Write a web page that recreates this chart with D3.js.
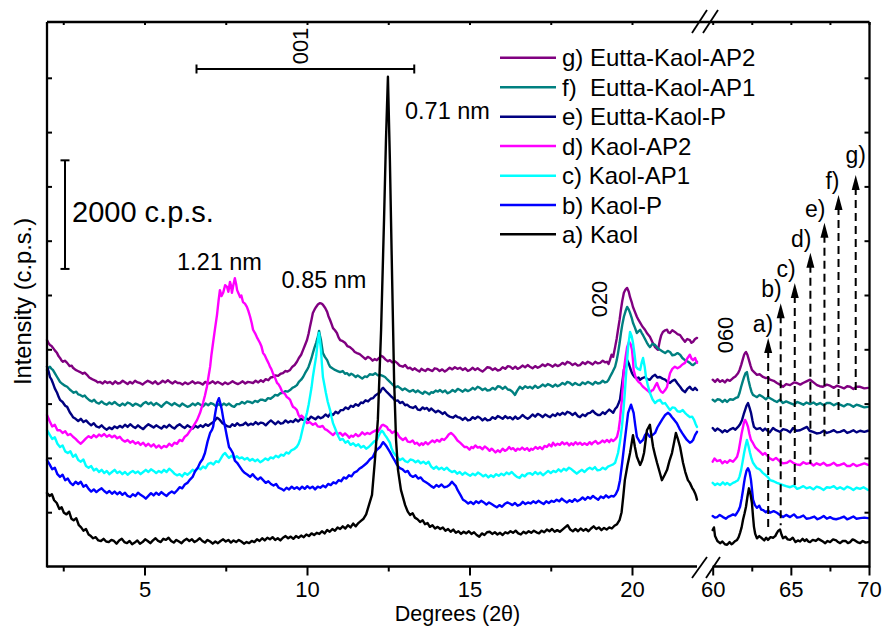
<!DOCTYPE html>
<html>
<head>
<meta charset="utf-8">
<script src="https://cdn.jsdelivr.net/npm/d3@7"></script>
<style>
  html, body { margin: 0; padding: 0; background: #fff; }
  svg text { font-family: Arial, "Liberation Sans", sans-serif; fill: #000; }
</style>
</head>
<body>
<svg id="chart" width="884" height="626"></svg>
<script>
// ---------------- data ----------------
const sampleLabels = ["a) Kaol", "b) Kaol-P", "c) Kaol-AP1", "d) Kaol-AP2",
                      "e) Eutta-Kaol-P", "f)  Eutta-Kaol-AP1", "g) Eutta-Kaol-AP2"];
const sampleColors = ["#000000", "#0000ff", "#00ffff", "#ff00ff", "#000080", "#008080", "#800080"];

const lowTicks = [5, 10, 15, 20];
const lowMinorTicks = [2.5, 7.5, 12.5, 17.5];
const highTicks = [60, 65, 70];
const highMinorTicks = [62.5, 67.5];
const intensityTicks = [1000, 2000, 3000, 4000, 5000, 6000, 7000, 8000, 9000];

// [2theta (deg), intensity (c.p.s., offset-stacked)]
const kaolLow = [[2.00,1355],[2.08,1300],[2.15,1330],[2.22,1220],[2.30,1170],[2.38,1060],[2.45,1090],[2.52,990],[2.60,960],[2.68,1010],[2.75,880],[2.82,850],[2.90,890],[2.98,760],[3.05,720],[3.12,660],[3.20,690],[3.28,590],[3.35,560],[3.42,520],[3.50,540],[3.58,480],[3.66,470],[3.74,510],[3.82,460],[3.90,450],[3.98,490],[4.06,470],[4.14,420],[4.22,480],[4.30,510],[4.38,450],[4.46,430],[4.54,470],[4.62,410],[4.70,440],[4.78,480],[4.86,420],[4.94,450],[5.02,500],[5.10,470],[5.18,430],[5.26,480],[5.34,520],[5.42,470],[5.50,450],[5.58,510],[5.66,490],[5.74,530],[5.82,470],[5.90,440],[5.98,490],[6.06,460],[6.14,430],[6.22,480],[6.30,510],[6.38,470],[6.46,500],[6.54,450],[6.62,480],[6.70,520],[6.78,470],[6.86,440],[6.94,490],[7.02,460],[7.10,420],[7.18,460],[7.26,430],[7.34,470],[7.42,500],[7.50,460],[7.58,490],[7.66,440],[7.74,480],[7.82,450],[7.90,490],[7.98,460],[8.06,420],[8.14,450],[8.22,430],[8.30,470],[8.38,450],[8.46,500],[8.54,470],[8.62,520],[8.70,480],[8.78,530],[8.86,500],[8.94,540],[9.02,490],[9.10,520],[9.18,480],[9.26,530],[9.34,560],[9.42,520],[9.50,550],[9.58,510],[9.66,560],[9.74,530],[9.82,570],[9.90,540],[9.98,590],[10.06,560],[10.14,610],[10.22,580],[10.30,620],[10.38,600],[10.46,650],[10.54,610],[10.62,670],[10.70,640],[10.78,690],[10.86,660],[10.94,720],[11.02,690],[11.10,740],[11.18,700],[11.26,760],[11.34,720],[11.42,790],[11.50,740],[11.58,800],[11.66,840],[11.74,880],[11.82,960],[12.00,1320],[12.09,1960],[12.18,2700],[12.28,4360],[12.37,6380],[12.43,7860],[12.49,9020],[12.55,7490],[12.62,5280],[12.68,3440],[12.74,2330],[12.80,1780],[12.89,1410],[13.02,1130],[13.10,1010],[13.17,950],[13.25,980],[13.32,900],[13.40,870],[13.48,820],[13.56,850],[13.63,780],[13.71,800],[13.78,730],[13.86,760],[13.94,700],[14.02,730],[14.10,690],[14.18,720],[14.26,660],[14.34,690],[14.42,640],[14.50,680],[14.58,620],[14.66,650],[14.74,600],[14.82,640],[14.90,610],[14.98,650],[15.06,600],[15.14,630],[15.22,580],[15.30,550],[15.38,610],[15.46,580],[15.54,630],[15.62,640],[15.70,600],[15.78,630],[15.86,590],[15.94,620],[16.02,580],[16.10,630],[16.18,610],[16.26,650],[16.34,620],[16.42,660],[16.50,610],[16.58,590],[16.66,640],[16.74,610],[16.82,650],[16.90,620],[16.98,660],[17.06,630],[17.14,610],[17.22,660],[17.30,630],[17.38,680],[17.46,650],[17.54,690],[17.62,640],[17.70,670],[17.78,640],[17.86,680],[17.94,720],[18.02,760],[18.10,680],[18.18,650],[18.26,690],[18.34,650],[18.42,700],[18.50,660],[18.58,690],[18.66,650],[18.74,700],[18.82,740],[18.90,690],[18.98,720],[19.06,670],[19.14,710],[19.22,680],[19.30,720],[19.38,700],[19.46,750],[19.54,780],[19.62,860],[19.68,1000],[19.73,1280],[19.78,1590],[19.86,1860],[19.94,2090],[20.03,2420],[20.09,2200],[20.15,2020],[20.25,1870],[20.31,1950],[20.37,2090],[20.46,2510],[20.55,2610],[20.60,2400],[20.65,2200],[20.71,2050],[20.77,1910],[20.85,1740],[20.92,1590],[21.00,1680],[21.08,1780],[21.15,1940],[21.23,2090],[21.30,2300],[21.35,2460],[21.42,2330],[21.48,2200],[21.57,1910],[21.64,1740],[21.72,1590],[21.78,1540],[21.85,1450],[21.90,1400],[21.94,1350],[21.97,1300],[22.00,1230]];
const kaolHigh = [[60.00,670],[60.08,720],[60.15,560],[60.30,470],[60.47,430],[60.62,460],[60.78,410],[60.92,400],[61.08,450],[61.20,410],[61.30,430],[61.45,470],[61.56,490],[61.66,540],[61.75,620],[61.85,720],[61.94,860],[62.04,980],[62.13,1100],[62.22,1280],[62.32,1440],[62.42,1330],[62.51,1170],[62.58,920],[62.64,730],[62.72,600],[62.83,520],[62.98,560],[63.15,520],[63.30,480],[63.42,530],[63.54,490],[63.70,540],[63.86,530],[64.00,560],[64.11,620],[64.20,660],[64.31,680],[64.40,590],[64.50,520],[64.65,550],[64.80,500],[64.95,490],[65.12,530],[65.30,450],[65.45,480],[65.59,460],[65.75,510],[65.88,470],[66.00,500],[66.12,460],[66.23,450],[66.40,490],[66.60,470],[66.75,510],[66.87,490],[67.05,460],[67.20,430],[67.35,470],[67.51,450],[67.70,500],[67.90,480],[68.02,450],[68.15,430],[68.32,470],[68.50,470],[68.65,430],[68.79,450],[68.95,500],[69.10,480],[69.25,450],[69.43,430],[69.60,470],[69.78,440],[69.94,450]];

const kaolPLow = [[2.00,1960],[2.08,1880],[2.16,1790],[2.24,1820],[2.32,1700],[2.40,1650],[2.48,1690],[2.56,1590],[2.64,1620],[2.72,1540],[2.80,1500],[2.88,1560],[2.96,1520],[3.04,1560],[3.12,1470],[3.20,1500],[3.28,1430],[3.36,1380],[3.44,1420],[3.52,1370],[3.60,1410],[3.68,1440],[3.76,1390],[3.84,1350],[3.92,1390],[4.00,1340],[4.08,1380],[4.16,1330],[4.24,1370],[4.32,1320],[4.40,1360],[4.48,1300],[4.56,1280],[4.64,1330],[4.72,1300],[4.80,1360],[4.88,1320],[4.96,1290],[5.04,1250],[5.12,1300],[5.20,1350],[5.28,1310],[5.36,1360],[5.44,1320],[5.52,1370],[5.60,1330],[5.68,1300],[5.76,1350],[5.84,1380],[5.92,1350],[6.00,1400],[6.08,1460],[6.16,1440],[6.24,1510],[6.32,1540],[6.40,1600],[6.48,1650],[6.56,1760],[6.64,1820],[6.71,1910],[6.79,1980],[6.86,2090],[6.94,2300],[7.02,2460],[7.08,2520],[7.11,2570],[7.17,2800],[7.23,3010],[7.29,3100],[7.34,2990],[7.38,2880],[7.43,2700],[7.48,2570],[7.54,2380],[7.60,2200],[7.66,2150],[7.72,2090],[7.78,1950],[7.85,1910],[7.94,1830],[8.02,1760],[8.09,1720],[8.17,1690],[8.25,1650],[8.33,1700],[8.41,1640],[8.49,1600],[8.57,1640],[8.65,1590],[8.73,1540],[8.81,1570],[8.89,1520],[8.97,1490],[9.05,1520],[9.13,1450],[9.21,1430],[9.29,1400],[9.37,1450],[9.45,1420],[9.53,1470],[9.61,1430],[9.69,1460],[9.77,1420],[9.85,1470],[9.93,1430],[10.01,1480],[10.09,1440],[10.17,1470],[10.25,1420],[10.33,1470],[10.41,1450],[10.49,1490],[10.57,1460],[10.65,1520],[10.73,1500],[10.81,1550],[10.89,1530],[10.97,1590],[11.05,1570],[11.13,1640],[11.21,1620],[11.29,1680],[11.37,1660],[11.45,1730],[11.53,1750],[11.61,1800],[11.69,1830],[11.77,1870],[11.85,1910],[11.93,1970],[12.03,2020],[12.09,2100],[12.15,2150],[12.25,2200],[12.34,2290],[12.40,2250],[12.46,2200],[12.55,2110],[12.65,2000],[12.71,1940],[12.77,1870],[12.86,1810],[12.94,1790],[13.02,1740],[13.10,1760],[13.18,1680],[13.26,1650],[13.34,1680],[13.42,1620],[13.50,1640],[13.58,1580],[13.66,1550],[13.74,1520],[13.82,1480],[13.90,1450],[13.98,1500],[14.06,1470],[14.14,1510],[14.22,1460],[14.30,1470],[14.38,1500],[14.46,1560],[14.52,1520],[14.58,1480],[14.64,1400],[14.72,1320],[14.80,1230],[14.88,1200],[14.96,1160],[15.04,1190],[15.12,1150],[15.20,1200],[15.28,1170],[15.36,1210],[15.44,1180],[15.52,1140],[15.60,1180],[15.68,1150],[15.76,1120],[15.84,1090],[15.92,1130],[16.00,1100],[16.08,1150],[16.16,1180],[16.24,1160],[16.32,1130],[16.40,1170],[16.48,1120],[16.56,1140],[16.64,1190],[16.72,1150],[16.80,1180],[16.88,1160],[16.96,1200],[17.04,1170],[17.12,1210],[17.20,1180],[17.28,1150],[17.36,1200],[17.44,1170],[17.52,1210],[17.60,1190],[17.68,1230],[17.76,1200],[17.84,1250],[17.92,1210],[18.00,1180],[18.08,1220],[18.16,1190],[18.24,1240],[18.32,1200],[18.40,1230],[18.48,1270],[18.56,1230],[18.64,1280],[18.72,1250],[18.80,1300],[18.88,1260],[18.96,1230],[19.04,1290],[19.12,1260],[19.20,1310],[19.28,1270],[19.36,1300],[19.44,1290],[19.50,1330],[19.57,1420],[19.63,1590],[19.70,1920],[19.78,2330],[19.88,2830],[19.97,2980],[20.05,2830],[20.10,2600],[20.15,2390],[20.25,2280],[20.34,2330],[20.40,2420],[20.46,2460],[20.55,2390],[20.63,2420],[20.71,2460],[20.78,2560],[20.86,2640],[20.94,2720],[21.02,2790],[21.11,2830],[21.17,2800],[21.23,2750],[21.30,2700],[21.38,2640],[21.46,2540],[21.54,2460],[21.62,2390],[21.69,2330],[21.78,2280],[21.84,2300],[21.88,2330],[21.94,2420],[22.00,2480]];
const kaolPHigh = [[60.00,930],[60.14,900],[60.28,910],[60.45,950],[60.66,910],[60.85,880],[61.00,920],[61.11,930],[61.30,960],[61.45,940],[61.56,990],[61.66,1040],[61.75,1100],[61.85,1250],[61.94,1410],[62.00,1530],[62.07,1650],[62.16,1760],[62.26,1810],[62.36,1740],[62.45,1590],[62.52,1400],[62.58,1230],[62.70,1130],[62.83,1080],[62.98,1120],[63.10,1050],[63.22,1040],[63.40,1000],[63.55,1030],[63.67,990],[63.90,1020],[64.11,990],[64.30,950],[64.50,910],[64.70,950],[64.95,910],[65.20,960],[65.40,900],[65.59,910],[65.80,940],[66.00,880],[66.23,890],[66.50,920],[66.70,870],[66.87,890],[67.10,930],[67.30,880],[67.51,910],[67.70,880],[67.90,870],[68.15,890],[68.40,920],[68.60,870],[68.79,890],[69.00,920],[69.20,880],[69.43,890],[69.70,900],[69.94,890]];

const kaolAP1Low = [[2.00,2510],[2.08,2430],[2.16,2350],[2.24,2380],[2.32,2260],[2.40,2200],[2.48,2230],[2.56,2120],[2.64,2090],[2.72,2120],[2.80,2020],[2.88,2060],[2.96,1960],[3.04,1930],[3.12,1970],[3.20,1850],[3.28,1820],[3.36,1850],[3.44,1770],[3.52,1800],[3.60,1740],[3.68,1780],[3.76,1720],[3.84,1760],[3.92,1700],[4.00,1740],[4.08,1780],[4.16,1720],[4.24,1750],[4.32,1700],[4.40,1740],[4.48,1690],[4.56,1730],[4.64,1760],[4.72,1720],[4.80,1750],[4.88,1700],[4.96,1740],[5.04,1780],[5.12,1740],[5.20,1790],[5.28,1760],[5.36,1720],[5.44,1760],[5.52,1730],[5.60,1780],[5.68,1740],[5.76,1800],[5.84,1760],[5.92,1710],[6.00,1680],[6.08,1700],[6.16,1660],[6.24,1720],[6.32,1690],[6.40,1730],[6.48,1780],[6.56,1750],[6.64,1820],[6.72,1790],[6.80,1840],[6.88,1810],[6.96,1890],[7.04,1910],[7.12,1880],[7.20,1940],[7.28,1920],[7.36,2000],[7.42,2060],[7.48,2090],[7.54,2040],[7.60,2000],[7.68,2040],[7.76,1990],[7.84,2030],[7.92,1990],[8.00,2010],[8.08,1970],[8.16,2000],[8.24,1950],[8.32,1980],[8.40,1940],[8.48,1970],[8.56,1920],[8.64,1950],[8.72,1990],[8.80,1960],[8.88,2010],[8.96,1990],[9.04,2040],[9.12,2010],[9.20,2060],[9.28,2040],[9.36,2100],[9.44,2080],[9.52,2140],[9.60,2160],[9.68,2200],[9.74,2260],[9.80,2360],[9.88,2570],[9.94,2700],[10.00,2830],[10.05,2980],[10.09,3120],[10.14,3300],[10.18,3490],[10.23,3680],[10.28,3860],[10.32,4080],[10.35,4230],[10.37,4300],[10.40,4150],[10.43,3990],[10.46,3720],[10.49,3490],[10.54,3330],[10.58,3200],[10.64,3030],[10.71,2880],[10.76,2740],[10.80,2640],[10.86,2550],[10.92,2460],[10.97,2390],[11.02,2330],[11.10,2350],[11.18,2280],[11.26,2310],[11.34,2240],[11.42,2270],[11.50,2220],[11.58,2250],[11.66,2190],[11.74,2220],[11.82,2170],[11.90,2200],[11.98,2250],[12.06,2300],[12.15,2330],[12.20,2400],[12.25,2460],[12.30,2500],[12.34,2480],[12.40,2420],[12.46,2370],[12.55,2280],[12.60,2180],[12.65,2110],[12.71,2060],[12.77,2020],[12.82,1980],[12.86,1960],[12.94,1990],[13.02,1940],[13.10,1920],[13.18,1970],[13.26,1960],[13.34,1920],[13.42,1950],[13.50,1900],[13.58,1930],[13.66,1890],[13.74,1930],[13.82,1840],[13.90,1800],[13.98,1840],[14.06,1790],[14.14,1820],[14.22,1780],[14.30,1820],[14.38,1770],[14.46,1740],[14.54,1760],[14.62,1710],[14.70,1740],[14.78,1690],[14.86,1730],[14.94,1700],[15.02,1670],[15.10,1710],[15.18,1680],[15.26,1730],[15.34,1700],[15.42,1660],[15.50,1690],[15.58,1640],[15.66,1680],[15.74,1650],[15.82,1700],[15.90,1670],[15.98,1710],[16.06,1680],[16.14,1730],[16.22,1700],[16.30,1740],[16.38,1690],[16.46,1650],[16.54,1630],[16.62,1690],[16.70,1660],[16.78,1710],[16.86,1720],[16.94,1690],[17.02,1740],[17.10,1700],[17.18,1730],[17.26,1680],[17.34,1720],[17.42,1760],[17.50,1720],[17.58,1760],[17.66,1740],[17.74,1790],[17.82,1750],[17.90,1800],[17.98,1770],[18.06,1820],[18.14,1790],[18.22,1750],[18.30,1710],[18.38,1750],[18.46,1780],[18.54,1740],[18.62,1790],[18.70,1820],[18.78,1790],[18.86,1830],[18.94,1770],[19.02,1780],[19.10,1820],[19.18,1790],[19.26,1840],[19.34,1860],[19.42,1880],[19.48,1910],[19.57,2090],[19.63,2300],[19.69,2570],[19.74,2900],[19.78,3200],[19.83,3650],[19.88,4040],[19.94,4320],[19.99,4240],[20.03,4120],[20.08,3900],[20.12,3680],[20.18,3640],[20.25,3620],[20.30,3760],[20.34,3840],[20.39,3680],[20.43,3490],[20.49,3330],[20.55,3200],[20.63,3080],[20.71,3010],[20.78,3050],[20.86,3070],[20.94,3000],[21.02,3010],[21.10,2940],[21.17,2880],[21.24,2930],[21.32,2920],[21.40,2860],[21.48,2850],[21.56,2880],[21.63,2830],[21.70,2790],[21.78,2750],[21.85,2760],[21.91,2700],[21.96,2620],[22.00,2570]];
const kaolAP1High = [[60.00,1540],[60.15,1500],[60.30,1530],[60.47,1500],[60.65,1550],[60.80,1510],[60.92,1540],[61.10,1500],[61.30,1540],[61.45,1560],[61.62,1590],[61.72,1660],[61.82,1780],[61.92,1940],[62.01,2090],[62.10,2220],[62.19,2330],[62.29,2220],[62.39,2090],[62.48,1990],[62.58,1910],[62.70,1860],[62.83,1810],[63.00,1790],[63.22,1720],[63.40,1680],[63.55,1640],[63.67,1590],[63.90,1570],[64.11,1540],[64.30,1520],[64.50,1500],[64.70,1480],[64.95,1460],[65.20,1490],[65.40,1430],[65.59,1450],[65.80,1480],[66.00,1440],[66.23,1460],[66.45,1420],[66.65,1470],[66.87,1450],[67.10,1410],[67.30,1460],[67.51,1450],[67.75,1480],[67.95,1430],[68.15,1460],[68.40,1420],[68.60,1470],[68.79,1450],[69.00,1410],[69.20,1450],[69.43,1430],[69.65,1460],[69.94,1410]];

const kaolAP2Low = [[2.00,2790],[2.08,2680],[2.16,2580],[2.24,2610],[2.32,2510],[2.40,2510],[2.48,2460],[2.56,2490],[2.64,2420],[2.72,2440],[2.80,2390],[2.88,2350],[2.96,2300],[3.04,2260],[3.12,2310],[3.20,2360],[3.28,2400],[3.36,2370],[3.44,2420],[3.52,2380],[3.60,2430],[3.68,2400],[3.76,2440],[3.84,2390],[3.92,2420],[4.00,2380],[4.08,2410],[4.16,2360],[4.24,2390],[4.32,2330],[4.40,2300],[4.48,2330],[4.56,2280],[4.64,2310],[4.72,2260],[4.80,2290],[4.88,2240],[4.96,2280],[5.04,2220],[5.12,2260],[5.20,2210],[5.28,2250],[5.36,2190],[5.44,2230],[5.52,2180],[5.60,2220],[5.68,2200],[5.76,2260],[5.84,2220],[5.92,2280],[6.00,2260],[6.08,2330],[6.16,2310],[6.24,2390],[6.31,2420],[6.40,2500],[6.49,2570],[6.56,2640],[6.62,2700],[6.71,2830],[6.80,3010],[6.86,3150],[6.92,3310],[6.97,3500],[7.02,3680],[7.06,3900],[7.11,4120],[7.17,4380],[7.23,4630],[7.28,4900],[7.32,5090],[7.37,4980],[7.42,5040],[7.48,5180],[7.54,5150],[7.58,5060],[7.63,5240],[7.66,5180],[7.69,5040],[7.74,5200],[7.78,5310],[7.82,5200],[7.85,5090],[7.90,5020],[7.94,4960],[7.98,4990],[8.03,4870],[8.09,4840],[8.15,4780],[8.20,4700],[8.25,4600],[8.30,4480],[8.34,4360],[8.40,4300],[8.46,4220],[8.55,4120],[8.60,4050],[8.65,3930],[8.70,3890],[8.77,3800],[8.82,3740],[8.86,3680],[8.90,3640],[8.95,3560],[9.02,3470],[9.08,3380],[9.12,3360],[9.17,3310],[9.22,3240],[9.26,3200],[9.32,3180],[9.38,3120],[9.43,3100],[9.48,3070],[9.53,2990],[9.57,2940],[9.63,2920],[9.69,2880],[9.74,2790],[9.78,2750],[9.83,2780],[9.88,2750],[9.94,2690],[10.00,2640],[10.08,2660],[10.18,2610],[10.26,2640],[10.33,2580],[10.40,2570],[10.48,2590],[10.55,2530],[10.62,2510],[10.70,2470],[10.80,2420],[10.88,2470],[10.95,2440],[11.02,2460],[11.10,2410],[11.17,2450],[11.23,2420],[11.30,2370],[11.36,2410],[11.42,2390],[11.50,2440],[11.57,2400],[11.63,2420],[11.70,2470],[11.78,2430],[11.85,2460],[11.93,2440],[12.03,2480],[12.12,2510],[12.18,2480],[12.25,2550],[12.30,2600],[12.34,2610],[12.40,2590],[12.46,2570],[12.50,2520],[12.55,2510],[12.62,2460],[12.70,2490],[12.77,2460],[12.85,2380],[12.95,2330],[13.03,2370],[13.10,2300],[13.17,2290],[13.25,2320],[13.32,2260],[13.38,2280],[13.46,2230],[13.53,2270],[13.57,2240],[13.65,2290],[13.72,2250],[13.78,2280],[13.86,2320],[13.93,2290],[14.00,2330],[14.08,2300],[14.15,2350],[14.22,2330],[14.30,2380],[14.36,2430],[14.43,2460],[14.49,2430],[14.55,2390],[14.63,2320],[14.71,2280],[14.78,2240],[14.85,2200],[14.92,2200],[15.00,2150],[15.06,2200],[15.11,2180],[15.18,2230],[15.25,2190],[15.32,2200],[15.40,2160],[15.47,2210],[15.54,2180],[15.62,2130],[15.68,2170],[15.72,2150],[15.80,2100],[15.87,2140],[15.94,2110],[16.02,2170],[16.09,2130],[16.15,2150],[16.22,2200],[16.28,2160],[16.34,2180],[16.42,2130],[16.48,2170],[16.55,2150],[16.62,2190],[16.70,2150],[16.77,2180],[16.84,2130],[16.90,2170],[16.95,2150],[17.03,2200],[17.10,2170],[17.17,2200],[17.24,2160],[17.31,2220],[17.38,2200],[17.45,2250],[17.52,2210],[17.57,2280],[17.64,2230],[17.71,2260],[17.78,2240],[17.85,2290],[17.92,2250],[18.00,2280],[18.07,2230],[18.13,2270],[18.19,2240],[18.26,2290],[18.33,2250],[18.40,2280],[18.47,2240],[18.54,2270],[18.62,2240],[18.70,2290],[18.76,2250],[18.80,2280],[18.88,2310],[18.95,2260],[19.02,2280],[19.09,2320],[19.16,2290],[19.23,2330],[19.30,2290],[19.36,2340],[19.42,2310],[19.48,2340],[19.54,2390],[19.59,2520],[19.63,2700],[19.66,2900],[19.69,3070],[19.72,3350],[19.75,3620],[19.80,3850],[19.85,4040],[19.91,4140],[19.96,4090],[20.00,3990],[20.03,3800],[20.05,3620],[20.10,3510],[20.15,3440],[20.20,3400],[20.25,3380],[20.30,3340],[20.34,3310],[20.40,3280],[20.46,3250],[20.50,3230],[20.55,3200],[20.60,3240],[20.65,3250],[20.71,3320],[20.77,3380],[20.82,3300],[20.86,3250],[20.90,3220],[20.95,3200],[21.02,3250],[21.08,3310],[21.12,3430],[21.17,3560],[21.24,3640],[21.32,3680],[21.40,3650],[21.48,3680],[21.55,3720],[21.63,3750],[21.70,3830],[21.78,3900],[21.83,3830],[21.88,3800],[21.94,3840],[22.00,3750]];
const kaolAP2High = [[60.00,1930],[60.12,1990],[60.28,1940],[60.47,1960],[60.62,1900],[60.78,1940],[60.92,1910],[61.10,1960],[61.30,1930],[61.45,1980],[61.56,2020],[61.66,2130],[61.75,2280],[61.85,2450],[61.94,2570],[62.00,2650],[62.07,2700],[62.16,2650],[62.26,2570],[62.35,2440],[62.45,2330],[62.58,2270],[62.71,2200],[62.88,2150],[63.03,2110],[63.20,2060],[63.35,2090],[63.47,2050],[63.65,1990],[63.86,1960],[64.05,2000],[64.31,1930],[64.50,1900],[64.75,1910],[64.95,1950],[65.14,1910],[65.35,1880],[65.59,1870],[65.80,1920],[66.00,1890],[66.23,1910],[66.45,1860],[66.65,1900],[66.87,1870],[67.10,1910],[67.30,1860],[67.51,1870],[67.75,1910],[67.95,1860],[68.15,1870],[68.40,1900],[68.60,1850],[68.79,1850],[69.00,1890],[69.20,1850],[69.43,1870],[69.70,1900],[69.94,1870]];

const euttaPLow = [[2.00,3680],[2.05,3590],[2.09,3490],[2.14,3440],[2.18,3380],[2.24,3280],[2.31,3200],[2.36,3120],[2.40,3070],[2.48,3030],[2.56,2960],[2.62,2940],[2.70,2840],[2.76,2790],[2.80,2750],[2.88,2720],[2.96,2680],[3.04,2720],[3.12,2660],[3.20,2690],[3.28,2640],[3.36,2600],[3.44,2640],[3.52,2580],[3.60,2560],[3.68,2600],[3.76,2550],[3.84,2520],[3.92,2560],[4.00,2530],[4.08,2580],[4.16,2550],[4.24,2590],[4.32,2560],[4.40,2610],[4.48,2570],[4.56,2620],[4.64,2580],[4.72,2550],[4.80,2600],[4.88,2560],[4.96,2530],[5.04,2580],[5.12,2620],[5.20,2590],[5.28,2560],[5.36,2600],[5.44,2570],[5.52,2540],[5.60,2590],[5.68,2560],[5.76,2610],[5.84,2570],[5.92,2540],[6.00,2590],[6.08,2620],[6.16,2580],[6.24,2550],[6.32,2600],[6.40,2570],[6.48,2540],[6.56,2590],[6.64,2560],[6.72,2600],[6.80,2570],[6.88,2620],[6.96,2590],[7.04,2630],[7.12,2660],[7.18,2700],[7.23,2740],[7.28,2720],[7.32,2700],[7.40,2640],[7.48,2610],[7.56,2580],[7.63,2570],[7.70,2620],[7.78,2590],[7.85,2640],[7.93,2600],[8.03,2610],[8.11,2650],[8.19,2600],[8.27,2630],[8.34,2610],[8.42,2660],[8.50,2620],[8.58,2650],[8.65,2640],[8.73,2600],[8.81,2650],[8.89,2690],[8.95,2660],[9.03,2620],[9.11,2670],[9.19,2630],[9.26,2640],[9.34,2690],[9.42,2650],[9.50,2680],[9.57,2660],[9.65,2710],[9.73,2670],[9.81,2720],[9.88,2700],[9.96,2740],[10.04,2700],[10.12,2760],[10.18,2740],[10.26,2710],[10.34,2760],[10.42,2730],[10.49,2750],[10.57,2800],[10.65,2760],[10.72,2820],[10.80,2790],[10.88,2850],[10.96,2820],[11.04,2880],[11.11,2880],[11.19,2930],[11.27,2900],[11.35,2960],[11.42,2940],[11.50,2990],[11.58,2960],[11.66,3020],[11.72,3010],[11.80,3060],[11.88,3040],[11.96,3090],[12.03,3100],[12.10,3150],[12.18,3180],[12.25,3210],[12.30,3270],[12.34,3290],[12.40,3250],[12.46,3210],[12.53,3170],[12.59,3130],[12.65,3100],[12.72,3050],[12.79,3060],[12.86,3010],[12.94,3030],[13.02,2970],[13.08,2980],[13.16,2940],[13.26,2920],[13.34,2950],[13.41,2890],[13.48,2880],[13.56,2930],[13.62,2900],[13.69,2920],[13.76,2870],[13.82,2910],[13.88,2880],[13.96,2840],[14.03,2870],[14.09,2850],[14.17,2810],[14.24,2840],[14.31,2790],[14.39,2760],[14.49,2740],[14.57,2780],[14.64,2750],[14.71,2740],[14.79,2700],[14.87,2740],[14.95,2690],[15.02,2700],[15.10,2750],[15.17,2720],[15.25,2760],[15.32,2740],[15.40,2690],[15.48,2730],[15.55,2690],[15.63,2700],[15.71,2750],[15.79,2720],[15.87,2770],[15.94,2750],[16.02,2720],[16.10,2770],[16.18,2730],[16.25,2750],[16.33,2710],[16.41,2760],[16.48,2720],[16.55,2740],[16.63,2790],[16.71,2750],[16.79,2720],[16.86,2750],[16.94,2800],[17.02,2760],[17.10,2810],[17.17,2790],[17.25,2750],[17.33,2800],[17.41,2770],[17.48,2750],[17.56,2800],[17.64,2770],[17.71,2820],[17.78,2790],[17.86,2830],[17.94,2800],[18.01,2850],[18.09,2830],[18.17,2790],[18.25,2830],[18.33,2770],[18.40,2750],[18.48,2800],[18.56,2770],[18.64,2820],[18.71,2830],[18.79,2870],[18.87,2820],[18.95,2790],[19.02,2790],[19.10,2840],[19.17,2810],[19.23,2850],[19.30,2890],[19.36,2860],[19.42,2830],[19.48,2900],[19.54,2940],[19.59,3010],[19.63,3070],[19.66,3200],[19.69,3340],[19.72,3480],[19.75,3620],[19.80,3720],[19.85,3800],[19.90,3740],[19.94,3660],[20.00,3560],[20.04,3520],[20.08,3490],[20.15,3460],[20.20,3480],[20.25,3440],[20.32,3470],[20.40,3490],[20.47,3450],[20.55,3440],[20.63,3500],[20.71,3530],[20.78,3480],[20.86,3490],[20.94,3460],[21.02,3440],[21.09,3400],[21.17,3380],[21.24,3420],[21.32,3440],[21.40,3370],[21.48,3310],[21.55,3250],[21.63,3210],[21.70,3270],[21.78,3310],[21.83,3270],[21.88,3250],[21.94,3290],[22.00,3250]];
const euttaPHigh = [[60.00,2550],[60.15,2500],[60.30,2540],[60.47,2510],[60.62,2470],[60.78,2510],[60.92,2480],[61.10,2520],[61.30,2550],[61.45,2520],[61.62,2570],[61.75,2620],[61.88,2700],[61.98,2800],[62.07,2880],[62.16,2960],[62.26,3010],[62.36,2920],[62.45,2830],[62.55,2680],[62.64,2570],[62.80,2530],[63.03,2550],[63.20,2500],[63.35,2540],[63.47,2510],[63.65,2470],[63.86,2550],[64.05,2510],[64.31,2480],[64.50,2530],[64.75,2510],[64.95,2470],[65.14,2550],[65.35,2500],[65.59,2510],[65.80,2540],[66.03,2570],[66.20,2500],[66.42,2480],[66.65,2450],[66.87,2460],[67.10,2500],[67.30,2460],[67.51,2480],[67.75,2510],[67.95,2470],[68.15,2480],[68.40,2510],[68.60,2460],[68.79,2480],[69.00,2510],[69.20,2470],[69.43,2500],[69.70,2480],[69.94,2500]];

const euttaAP1Low = [[2.00,3620],[2.05,3660],[2.09,3680],[2.14,3640],[2.18,3620],[2.24,3560],[2.31,3490],[2.36,3440],[2.40,3400],[2.48,3360],[2.55,3330],[2.62,3310],[2.70,3260],[2.76,3230],[2.82,3200],[2.90,3220],[2.96,3170],[3.02,3160],[3.10,3130],[3.16,3150],[3.23,3100],[3.31,3060],[3.38,3040],[3.45,3070],[3.52,3020],[3.60,3000],[3.68,3040],[3.76,3000],[3.84,2980],[3.92,3020],[4.00,2990],[4.08,3030],[4.16,2990],[4.24,2960],[4.32,3000],[4.40,2970],[4.48,3020],[4.56,3000],[4.64,2960],[4.72,3000],[4.80,2980],[4.88,2950],[4.96,3000],[5.04,3030],[5.12,2990],[5.20,3020],[5.28,2970],[5.36,3010],[5.44,2980],[5.52,2940],[5.60,2990],[5.68,3030],[5.76,3000],[5.84,2970],[5.92,3010],[6.00,2980],[6.08,2950],[6.16,3000],[6.24,2970],[6.32,2940],[6.40,2960],[6.48,3000],[6.56,2970],[6.64,3010],[6.72,2980],[6.80,2950],[6.88,3000],[6.96,2970],[7.04,3010],[7.12,2990],[7.20,2950],[7.28,2990],[7.36,2960],[7.44,3000],[7.52,2970],[7.60,3000],[7.68,2960],[7.76,2940],[7.84,2990],[7.92,2990],[8.00,3030],[8.08,3000],[8.16,3040],[8.24,3030],[8.32,3010],[8.40,3050],[8.48,3030],[8.56,3070],[8.64,3070],[8.72,3050],[8.80,3100],[8.88,3090],[8.95,3120],[9.02,3160],[9.10,3150],[9.18,3190],[9.26,3200],[9.33,3230],[9.40,3220],[9.48,3250],[9.55,3290],[9.62,3310],[9.69,3340],[9.75,3400],[9.82,3440],[9.88,3490],[9.94,3560],[10.00,3620],[10.05,3680],[10.09,3750],[10.14,3840],[10.18,3930],[10.23,4030],[10.28,4120],[10.32,4200],[10.35,4270],[10.37,4340],[10.40,4250],[10.43,4170],[10.46,4050],[10.49,3930],[10.55,3860],[10.62,3800],[10.66,3740],[10.71,3680],[10.78,3650],[10.86,3620],[10.94,3600],[11.02,3580],[11.10,3600],[11.17,3550],[11.23,3560],[11.30,3520],[11.36,3550],[11.42,3530],[11.50,3490],[11.56,3520],[11.63,3490],[11.70,3460],[11.78,3500],[11.85,3490],[11.93,3540],[12.03,3530],[12.10,3560],[12.18,3520],[12.25,3530],[12.33,3510],[12.40,3490],[12.48,3440],[12.55,3400],[12.60,3370],[12.65,3340],[12.72,3300],[12.79,3320],[12.86,3290],[12.94,3250],[13.01,3280],[13.08,3250],[13.16,3220],[13.26,3250],[13.34,3210],[13.41,3240],[13.48,3210],[13.56,3180],[13.62,3220],[13.69,3200],[13.76,3170],[13.82,3210],[13.88,3200],[13.96,3240],[14.03,3220],[14.09,3250],[14.17,3210],[14.25,3240],[14.32,3190],[14.40,3210],[14.48,3250],[14.56,3220],[14.64,3270],[14.71,3250],[14.79,3220],[14.87,3260],[14.95,3230],[15.02,3250],[15.10,3290],[15.17,3260],[15.25,3310],[15.32,3290],[15.40,3250],[15.48,3280],[15.55,3240],[15.63,3250],[15.71,3290],[15.79,3260],[15.87,3320],[15.94,3310],[16.02,3270],[16.10,3310],[16.18,3260],[16.25,3250],[16.32,3220],[16.40,3160],[16.46,3230],[16.55,3310],[16.63,3270],[16.71,3320],[16.79,3290],[16.86,3310],[16.94,3280],[17.02,3330],[17.10,3290],[17.17,3310],[17.25,3350],[17.33,3320],[17.41,3360],[17.48,3340],[17.56,3310],[17.64,3350],[17.71,3320],[17.78,3340],[17.86,3380],[17.94,3350],[18.01,3400],[18.09,3380],[18.17,3340],[18.25,3380],[18.33,3350],[18.40,3340],[18.48,3390],[18.56,3360],[18.64,3400],[18.71,3380],[18.79,3350],[18.87,3400],[18.95,3370],[19.02,3380],[19.10,3420],[19.17,3390],[19.23,3400],[19.28,3440],[19.32,3490],[19.40,3580],[19.48,3680],[19.53,3800],[19.57,3930],[19.62,4120],[19.66,4300],[19.70,4450],[19.75,4600],[19.80,4700],[19.85,4780],[19.90,4730],[19.94,4670],[19.99,4580],[20.03,4490],[20.09,4400],[20.15,4300],[20.20,4330],[20.25,4360],[20.30,4300],[20.34,4260],[20.40,4190],[20.46,4120],[20.50,4080],[20.55,4040],[20.63,4100],[20.71,4080],[20.78,4030],[20.86,3990],[20.94,3960],[21.02,3930],[21.10,3970],[21.17,3950],[21.24,3890],[21.32,3900],[21.40,3930],[21.48,3900],[21.55,3840],[21.63,3800],[21.70,3780],[21.78,3750],[21.83,3720],[21.88,3710],[21.94,3740],[22.00,3770]];
const euttaAP1High = [[60.00,3070],[60.15,3040],[60.30,3080],[60.47,3070],[60.62,3030],[60.78,3070],[60.92,3030],[61.10,3080],[61.30,3070],[61.45,3100],[61.62,3120],[61.72,3200],[61.82,3310],[61.92,3410],[62.01,3490],[62.10,3560],[62.19,3580],[62.29,3430],[62.39,3310],[62.48,3220],[62.58,3160],[62.70,3140],[62.83,3120],[63.00,3160],[63.22,3120],[63.40,3080],[63.55,3120],[63.67,3100],[63.90,3060],[64.11,3030],[64.30,3070],[64.50,3010],[64.70,3040],[64.95,3010],[65.20,2980],[65.40,3030],[65.59,3010],[65.80,2980],[66.00,3020],[66.23,2990],[66.45,3020],[66.65,2980],[66.87,3010],[67.10,2970],[67.30,3010],[67.51,3010],[67.75,2970],[67.95,3000],[68.15,2980],[68.40,2950],[68.60,2990],[68.79,2980],[69.00,2940],[69.20,2980],[69.43,2960],[69.70,2930],[69.94,2940]];

const euttaAP2Low = [[2.00,4170],[2.05,4110],[2.09,4080],[2.14,4060],[2.18,4030],[2.24,3980],[2.31,3930],[2.36,3870],[2.40,3840],[2.45,3790],[2.49,3770],[2.55,3790],[2.62,3750],[2.70,3690],[2.76,3700],[2.80,3660],[2.88,3620],[2.95,3600],[3.02,3580],[3.10,3550],[3.16,3570],[3.23,3530],[3.30,3480],[3.36,3460],[3.42,3440],[3.50,3420],[3.56,3390],[3.63,3400],[3.71,3370],[3.78,3410],[3.86,3380],[3.94,3400],[4.02,3360],[4.10,3410],[4.18,3370],[4.25,3380],[4.33,3420],[4.41,3390],[4.48,3360],[4.55,3400],[4.63,3370],[4.71,3420],[4.79,3390],[4.86,3380],[4.94,3350],[5.02,3390],[5.10,3420],[5.17,3400],[5.25,3370],[5.33,3410],[5.41,3360],[5.48,3380],[5.56,3420],[5.64,3390],[5.72,3430],[5.78,3400],[5.86,3370],[5.94,3410],[6.02,3380],[6.09,3380],[6.17,3350],[6.25,3390],[6.33,3360],[6.40,3380],[6.48,3410],[6.56,3370],[6.64,3390],[6.71,3380],[6.79,3350],[6.87,3400],[6.95,3370],[7.02,3380],[7.10,3410],[7.18,3370],[7.25,3400],[7.32,3380],[7.40,3350],[7.48,3390],[7.56,3360],[7.63,3380],[7.71,3410],[7.79,3380],[7.87,3360],[7.94,3380],[8.02,3410],[8.10,3370],[8.18,3400],[8.26,3390],[8.34,3380],[8.42,3420],[8.50,3390],[8.58,3430],[8.65,3400],[8.73,3450],[8.81,3430],[8.88,3480],[8.95,3490],[9.03,3520],[9.11,3510],[9.19,3550],[9.26,3560],[9.33,3600],[9.40,3590],[9.48,3620],[9.55,3680],[9.62,3710],[9.69,3770],[9.75,3840],[9.82,3900],[9.88,3990],[9.94,4080],[10.00,4170],[10.05,4290],[10.09,4410],[10.14,4550],[10.18,4670],[10.23,4730],[10.28,4780],[10.34,4830],[10.40,4850],[10.45,4840],[10.49,4820],[10.56,4760],[10.62,4690],[10.66,4610],[10.71,4540],[10.76,4460],[10.80,4390],[10.86,4350],[10.92,4300],[10.97,4220],[11.02,4170],[11.10,4150],[11.17,4120],[11.24,4060],[11.32,4040],[11.40,4000],[11.47,3950],[11.54,3930],[11.62,3910],[11.72,3860],[11.80,3820],[11.87,3860],[11.94,3840],[12.02,3790],[12.08,3820],[12.15,3800],[12.22,3840],[12.28,3880],[12.34,3860],[12.42,3810],[12.49,3780],[12.55,3800],[12.62,3760],[12.70,3780],[12.77,3750],[12.85,3700],[12.95,3680],[13.02,3710],[13.10,3650],[13.17,3660],[13.25,3620],[13.31,3650],[13.38,3620],[13.46,3590],[13.52,3640],[13.57,3620],[13.64,3600],[13.71,3640],[13.78,3620],[13.86,3600],[13.93,3650],[14.00,3640],[14.08,3600],[14.16,3630],[14.24,3590],[14.31,3620],[14.39,3660],[14.47,3630],[14.55,3670],[14.63,3640],[14.71,3660],[14.79,3620],[14.87,3650],[14.95,3600],[15.02,3620],[15.10,3660],[15.17,3620],[15.25,3650],[15.32,3620],[15.40,3590],[15.48,3630],[15.55,3670],[15.63,3660],[15.71,3620],[15.79,3650],[15.87,3610],[15.94,3620],[16.02,3670],[16.10,3640],[16.18,3690],[16.25,3680],[16.33,3640],[16.41,3680],[16.48,3640],[16.55,3660],[16.63,3700],[16.71,3670],[16.79,3710],[16.86,3680],[16.94,3650],[17.02,3690],[17.10,3660],[17.17,3680],[17.25,3720],[17.33,3690],[17.41,3730],[17.48,3710],[17.56,3680],[17.64,3720],[17.71,3690],[17.78,3710],[17.86,3750],[17.94,3720],[18.01,3770],[18.09,3750],[18.17,3710],[18.25,3740],[18.33,3700],[18.40,3710],[18.48,3760],[18.56,3730],[18.64,3770],[18.71,3750],[18.79,3720],[18.87,3770],[18.95,3740],[19.02,3750],[19.10,3790],[19.17,3760],[19.23,3770],[19.28,3730],[19.32,3800],[19.37,3900],[19.42,3860],[19.48,4040],[19.53,4200],[19.57,4360],[19.62,4550],[19.66,4730],[19.70,4890],[19.75,5040],[19.80,5100],[19.85,5130],[19.90,5060],[19.94,4960],[19.99,4870],[20.03,4780],[20.09,4690],[20.15,4600],[20.20,4540],[20.25,4490],[20.32,4420],[20.40,4360],[20.47,4290],[20.55,4230],[20.63,4130],[20.71,4040],[20.76,4010],[20.80,3990],[20.83,4080],[20.86,4170],[20.90,4260],[20.95,4320],[21.02,4350],[21.08,4360],[21.12,4310],[21.17,4300],[21.24,4350],[21.32,4320],[21.40,4280],[21.48,4260],[21.55,4200],[21.63,4140],[21.70,4190],[21.78,4170],[21.83,4120],[21.88,4140],[21.94,4190],[22.00,4210]];
const euttaAP2High = [[60.00,3440],[60.15,3400],[60.30,3450],[60.47,3400],[60.62,3430],[60.78,3390],[60.92,3440],[61.10,3420],[61.30,3470],[61.45,3500],[61.62,3560],[61.72,3620],[61.82,3710],[61.92,3810],[62.01,3900],[62.07,3930],[62.13,3950],[62.22,3900],[62.32,3800],[62.42,3700],[62.51,3620],[62.65,3580],[62.83,3530],[63.00,3540],[63.22,3490],[63.40,3470],[63.55,3480],[63.67,3440],[63.90,3420],[64.11,3380],[64.30,3350],[64.50,3310],[64.70,3360],[64.95,3340],[65.20,3390],[65.39,3380],[65.60,3350],[65.78,3380],[66.00,3410],[66.23,3440],[66.45,3390],[66.67,3340],[66.85,3320],[67.06,3310],[67.30,3350],[67.51,3330],[67.75,3290],[67.95,3330],[68.15,3310],[68.40,3280],[68.60,3320],[68.79,3310],[69.00,3270],[69.20,3310],[69.43,3310],[69.70,3280],[69.94,3290]];

// 060 marker arrows: position (deg), arrow tip and foot (c.p.s.)
const arrowLabels = ["a)", "b)", "c)", "d)", "e)", "f)", "g)"];
const arrowTheta = [63.55, 64.35, 65.25, 66.25, 67.15, 68.05, 69.15];
const arrowTip = [4210, 4850, 5220, 5780, 6330, 6840, 7210];
const arrowFoot = [670, 760, 1500, 1890, 2400, 2810, 3230];

// ---------------- layout ----------------
const svg = d3.select("#chart");
const plotL = 47, plotR = 869.5, plotT = 22, plotB = 566.5;
const xLow = d3.scaleLinear().domain([2, 22]).range([plotL, 697]);
const xHigh = d3.scaleLinear().domain([60, 70]).range([712.7, 869]);
const y = d3.scaleLinear().domain([0, 10000]).range([plotB, 23.5]);

const lowSeries = [kaolLow, kaolPLow, kaolAP1Low, kaolAP2Low, euttaPLow, euttaAP1Low, euttaAP2Low];
const highSeries = [kaolHigh, kaolPHigh, kaolAP1High, kaolAP2High, euttaPHigh, euttaAP1High, euttaAP2High];

const lineLow = d3.line().x(d => xLow(d[0])).y(d => y(d[1]));
const lineHigh = d3.line().x(d => xHigh(d[0])).y(d => y(d[1]));

// patterns: g) first, a) last so the reference kaolinite sits on top
const curves = svg.append("g").attr("fill", "none").attr("stroke-width", 2.4)
  .attr("stroke-linejoin", "round").attr("stroke-linecap", "round");
for (let i = 6; i >= 0; i--) {
  curves.append("path").attr("d", lineLow(lowSeries[i])).attr("stroke", sampleColors[i]);
  curves.append("path").attr("d", lineHigh(highSeries[i])).attr("stroke", sampleColors[i]);
}

// ---------------- axes ----------------
const tickFont = 22;
const axisG = svg.append("g");
function styleAxis(g) {
  g.select(".domain").remove();
  g.selectAll("line").attr("stroke", "#000").attr("stroke-width", 2);
  g.selectAll("text").attr("font-size", tickFont).attr("font-family", "Arial, 'Liberation Sans', sans-serif");
}
axisG.append("g").attr("transform", `translate(0,${plotB})`)
  .call(d3.axisBottom(xLow).tickValues(lowTicks).tickSize(9).tickPadding(5.9).tickFormat(d3.format("d"))).call(styleAxis);
axisG.append("g").attr("transform", `translate(0,${plotB})`)
  .call(d3.axisBottom(xLow).tickValues(lowMinorTicks).tickSize(5).tickFormat("")).call(styleAxis);
axisG.append("g").attr("transform", `translate(0,${plotB})`)
  .call(d3.axisBottom(xHigh).tickValues(highTicks).tickSize(9).tickPadding(5.9).tickFormat(d3.format("d"))).call(styleAxis);
axisG.append("g").attr("transform", `translate(0,${plotB})`)
  .call(d3.axisBottom(xHigh).tickValues(highMinorTicks).tickSize(5).tickFormat("")).call(styleAxis);
// short inward ticks on the top edge
axisG.append("g").attr("transform", `translate(0,${plotT})`)
  .call(d3.axisBottom(xLow).tickValues(lowTicks.concat(lowMinorTicks)).tickSize(3).tickFormat("")).call(styleAxis);
axisG.append("g").attr("transform", `translate(0,${plotT})`)
  .call(d3.axisBottom(xHigh).tickValues(highTicks.concat(highMinorTicks)).tickSize(3).tickFormat("")).call(styleAxis);
// inward intensity ticks, no labels
axisG.append("g").attr("transform", `translate(${plotL},0)`)
  .call(d3.axisRight(y).tickValues(intensityTicks).tickSize(5).tickFormat("")).call(styleAxis);
axisG.append("g").attr("transform", `translate(${plotR},0)`)
  .call(d3.axisLeft(y).tickValues(intensityTicks).tickSize(5).tickFormat("")).call(styleAxis);

// frame with broken bottom edge
const frame = svg.append("g").attr("stroke", "#000").attr("stroke-width", 2.3).attr("fill", "none");
frame.append("line").attr("x1", plotL).attr("x2", plotR).attr("y1", plotT).attr("y2", plotT);
frame.append("line").attr("x1", plotL).attr("x2", plotL).attr("y1", plotT).attr("y2", plotB + 1);
frame.append("line").attr("x1", plotR).attr("x2", plotR).attr("y1", plotT).attr("y2", plotB + 1);
frame.append("line").attr("x1", plotL).attr("x2", 697).attr("y1", plotB).attr("y2", plotB);
frame.append("line").attr("x1", 712.7).attr("x2", plotR).attr("y1", plotB).attr("y2", plotB);
// break marks
const breaks = svg.append("g").attr("stroke", "#000").attr("stroke-width", 1.8);
[[692, 33, 707, 10], [703, 33, 718, 10], [692, 578, 707, 557], [706, 578, 720, 557]].forEach(s => {
  breaks.append("line").attr("x1", s[0]).attr("y1", s[1]).attr("x2", s[2]).attr("y2", s[3]);
});

// axis titles
svg.append("text").attr("x", 457.5).attr("y", 621.3).attr("text-anchor", "middle")
  .attr("font-size", 21.5).text("Degrees (2θ)");
svg.append("text").attr("transform", "translate(31,301.5) rotate(-90)").attr("text-anchor", "middle")
  .attr("font-size", 23.7).text("Intensity (c.p.s.)");

// ---------------- annotations ----------------
// 2000 c.p.s. scale bar
const barBase = 5480, barX = 65;
const sb = svg.append("g").attr("stroke", "#000").attr("stroke-width", 2);
sb.append("line").attr("x1", barX).attr("x2", barX).attr("y1", y(barBase)).attr("y2", y(barBase + 2000));
sb.append("line").attr("x1", barX - 4.5).attr("x2", barX + 4.5).attr("y1", y(barBase)).attr("y2", y(barBase));
sb.append("line").attr("x1", barX - 4.5).attr("x2", barX + 4.5).attr("y1", y(barBase + 2000)).attr("y2", y(barBase + 2000));
svg.append("text").attr("x", 72).attr("y", 222).attr("font-size", 29).text("2000 c.p.s.");

// 001 reflection range bracket
const br = svg.append("g").attr("stroke", "#000").attr("stroke-width", 2);
br.append("line").attr("x1", xLow(6.6)).attr("x2", xLow(13.3)).attr("y1", 69).attr("y2", 69);
br.append("line").attr("x1", xLow(6.6)).attr("x2", xLow(6.6)).attr("y1", 64.5).attr("y2", 73.5);
br.append("line").attr("x1", xLow(13.3)).attr("x2", xLow(13.3)).attr("y1", 64.5).attr("y2", 73.5);
svg.append("text").attr("transform", "translate(307.5,46) rotate(-90)").attr("text-anchor", "middle")
  .attr("font-size", 22).text("001");
svg.append("text").attr("transform", "translate(607,299) rotate(-90)").attr("text-anchor", "middle")
  .attr("font-size", 22).text("020");
svg.append("text").attr("transform", "translate(733,335) rotate(-90)").attr("text-anchor", "middle")
  .attr("font-size", 22).text("060");

// basal spacings
svg.append("text").attr("x", 219.5).attr("y", 270).attr("text-anchor", "middle").attr("font-size", 23.5).text("1.21 nm");
svg.append("text").attr("x", 324).attr("y", 288).attr("text-anchor", "middle").attr("font-size", 23.5).text("0.85 nm");
svg.append("text").attr("x", 405).attr("y", 119).attr("font-size", 23.5).text("0.71 nm");

// legend
const legendRows = [6, 5, 4, 3, 2, 1, 0];
const legendY = [57.7, 87.3, 116.7, 146, 175.7, 205, 234.3];
legendRows.forEach((s, r) => {
  svg.append("line").attr("x1", 500).attr("x2", 556).attr("y1", legendY[r]).attr("y2", legendY[r])
    .attr("stroke", sampleColors[s]).attr("stroke-width", 2.5);
  svg.append("text").attr("x", 562).attr("y", legendY[r] + 8.5).attr("font-size", 24)
    .style("white-space", "pre").text(sampleLabels[s]);
});

// dashed arrows marking the 060 region
const arr = svg.append("g");
arrowTheta.forEach((t, i) => {
  const ax = xHigh(t), yt = y(arrowTip[i]), yf = y(arrowFoot[i]);
  arr.append("line").attr("x1", ax).attr("x2", ax).attr("y1", yt + 12).attr("y2", yf)
    .attr("stroke", "#000").attr("stroke-width", 2).attr("stroke-dasharray", "8,5");
  arr.append("path").attr("d", `M${ax},${yt} L${ax - 4},${yt + 15} L${ax + 4},${yt + 15} Z`).attr("fill", "#000");
  const lab = arr.append("text").attr("font-size", 23).text(arrowLabels[i]);
  if (i === 6) {
    lab.attr("x", ax).attr("y", yt - 12).attr("text-anchor", "middle");
  } else {
    lab.attr("x", ax + (i === 0 ? 5 : 1)).attr("y", yt - 6).attr("text-anchor", "end");
  }
});
</script>
</body>
</html>
